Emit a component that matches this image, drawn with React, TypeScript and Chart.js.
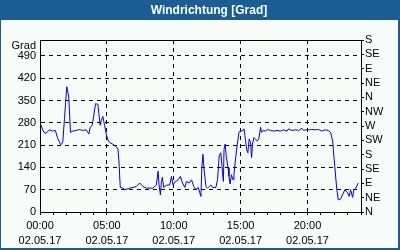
import React, { useEffect, useRef } from "react";
import { Chart, registerables } from "chart.js";

Chart.register(...registerables);

const titleText = "Windrichtung [Grad]";
const unitLabel = "Grad";

// time in hours since 02.05.17 00:00
const times = [
  0.0, 0.08, 0.2, 0.3, 0.45, 0.7, 0.95, 1.15, 1.3, 1.55, 1.7, 1.83, 2.0, 2.08, 2.15, 2.28, 2.45, 2.7, 2.95,
  3.2, 3.45, 3.65, 3.75, 3.9, 4.0, 4.15, 4.33, 4.4, 4.5, 4.58, 4.7, 4.83, 4.95, 5.08, 5.2, 5.45, 5.7, 5.83,
  5.9, 6.0, 6.2, 6.33, 6.7, 6.95, 7.2, 7.45, 7.7, 7.95, 8.45, 8.7, 8.83, 8.9, 9.0, 9.08, 9.15, 9.25, 9.45,
  9.7, 9.83, 9.95, 10.08, 10.33, 10.5, 10.65, 10.83, 10.95, 11.15, 11.33, 11.5, 11.65, 11.83, 11.95, 12.03,
  12.1, 12.18, 12.28, 12.41, 12.53, 12.66, 12.78, 12.9, 13.15, 13.27, 13.4, 13.52, 13.64, 13.71, 13.76,
  13.84, 13.94, 14.06, 14.13, 14.21, 14.31, 14.43, 14.5, 14.63, 14.75, 14.88, 15.0, 15.12, 15.25, 15.32,
  15.45, 15.54, 15.64, 15.74, 15.82, 15.89, 15.99, 16.11, 16.24, 16.36, 16.49, 16.56, 16.68, 16.86, 17.03,
  17.23, 17.48, 17.72, 17.97, 18.22, 18.47, 18.59, 18.84, 19.09, 19.33, 19.58, 19.7, 19.83, 20.07, 20.32,
  20.57, 20.82, 21.07, 21.31, 21.56, 21.73, 21.88, 21.98, 22.05, 22.18, 22.3, 22.48, 22.62, 22.8, 22.97,
  23.12, 23.22, 23.37, 23.47, 23.61, 23.79,
];

const directions = [
  265, 272, 258, 250, 247, 258, 254, 256, 234, 211, 218, 293, 393, 377, 361, 250, 254, 256, 259,
  256, 258, 245, 266, 272, 298, 340, 338, 309, 272, 287, 300, 272, 245, 226, 218, 213, 205, 197,
  160, 77, 75, 70, 75, 77, 80, 91, 80, 75, 75, 85, 128, 85, 54, 96, 109, 77, 84,
  85, 112, 85, 94, 101, 112, 91, 77, 96, 91, 101, 80, 70, 77, 60, 49,
  139, 181, 128, 80, 75, 80, 85, 77, 77, 101, 176, 186, 128, 96, 197,
  213, 171, 139, 112, 88, 117, 101, 117, 171, 213, 250, 256, 254, 261, 240,
  197, 186, 229, 218, 171, 213, 234, 229, 223, 229, 266, 250, 256, 254, 259,
  256, 254, 256, 254, 258, 254, 261, 256, 258, 256, 263, 256, 258, 258, 259,
  258, 259, 254, 258, 256, 250, 223, 171, 139, 75, 38, 41, 54, 70, 62,
  49, 70, 46, 70, 75, 91,
];

const yTickValues = [0, 70, 140, 210, 280, 350, 420, 490];
const xTickHours = [0, 1, 2, 3, 4, 5, 6, 7, 8, 9, 10, 11, 12, 13, 14, 15, 16, 17, 18, 19, 20, 21, 22, 23, 24];
const xLabelHours = [0, 5, 10, 15, 20];
const xLabelTimes = ["00:00", "05:00", "10:00", "15:00", "20:00"];
const xLabelDate = "02.05.17";
const compassValues = [0, 45, 90, 135, 180, 225, 270, 315, 360, 405, 450, 495, 540];
const compassLabels = ["N", "NE", "E", "SE", "S", "SW", "W", "NW", "N", "NE", "E", "SE", "S"];

const FONT = { family: "Liberation Sans", size: 11 };

const framePlugin = {
  id: "frame",
  beforeDraw(chart: any) {
    const { ctx, width, height } = chart;
    ctx.save();
    ctx.fillStyle = "#f8fcf8";
    ctx.fillRect(0, 0, width, height);
    ctx.fillStyle = "#1b5e94";
    ctx.fillRect(0, 0, width, 20);
    ctx.fillRect(0, 0, 1, height);
    ctx.fillRect(width - 2, 0, 2, height);
    ctx.fillRect(0, height - 2, width, 2);
    ctx.fillStyle = "#ffffff";
    ctx.font = "bold 12px 'Liberation Sans'";
    ctx.textAlign = "center";
    ctx.textBaseline = "middle";
    ctx.fillText(titleText, 209, 10.5);
    ctx.restore();
  },
  afterDraw(chart: any) {
    const { ctx, chartArea } = chart;
    ctx.save();
    ctx.strokeStyle = "#000";
    ctx.lineWidth = 1;
    ctx.beginPath();
    ctx.moveTo(chartArea.left, Math.round(chartArea.top) + 0.5);
    ctx.lineTo(chartArea.right, Math.round(chartArea.top) + 0.5);
    ctx.stroke();
    ctx.fillStyle = "#000";
    ctx.font = "11px 'Liberation Sans'";
    ctx.textAlign = "right";
    ctx.textBaseline = "middle";
    ctx.fillText(unitLabel, chartArea.left - 4, chartArea.top + 6);
    ctx.restore();
  },
};

export default function App() {
  const canvasRef = useRef<HTMLCanvasElement | null>(null);

  useEffect(() => {
    if (!canvasRef.current) return;
    const chart = new Chart(canvasRef.current, {
      type: "line",
      data: {
        datasets: [
          {
            data: times.map((t, i) => ({ x: t, y: directions[i] })),
            borderColor: "#0000ee",
            borderWidth: 1,
            pointRadius: 0,
            tension: 0,
            fill: false,
            xAxisID: "x",
            yAxisID: "y",
          },
        ],
      },
      options: {
        animation: false,
        responsive: false,
        devicePixelRatio: 1,
        layout: { padding: { top: 40, left: 0, right: 0, bottom: 0 } },
        plugins: { legend: { display: false }, tooltip: { enabled: false }, title: { display: false } },
        scales: {
          x: {
            type: "linear",
            min: 0,
            max: 24,
            afterBuildTicks: (s: any) => {
              s.ticks = xTickHours.map((v) => ({ value: v }));
            },
            afterFit: (s: any) => {
              s.height = 38;
            },
            ticks: {
              autoSkip: false,
              maxRotation: 0,
              color: "#000",
              font: { ...FONT, lineHeight: 1.4 },
              padding: 3,
              callback: (v: any) => {
                const i = xLabelHours.indexOf(Number(v));
                return i >= 0 ? [xLabelTimes[i], xLabelDate] : "";
              },
            },
            grid: {
              color: (c: any) => {
                const v = c.tick ? c.tick.value : 0;
                return xLabelHours.includes(v) && v > 0 ? "#000" : "rgba(0,0,0,0)";
              },
              tickColor: "#000",
              tickLength: 3,
              tickBorderDash: [],
              lineWidth: 1,
            },
            border: { display: true, color: "#000", width: 1, dash: [4, 4] },
          },
          y: {
            type: "linear",
            position: "left",
            min: 0,
            max: 540,
            afterBuildTicks: (s: any) => {
              s.ticks = yTickValues.map((v) => ({ value: v }));
            },
            afterFit: (s: any) => {
              s.width = 40;
            },
            ticks: { color: "#000", font: FONT, padding: 4, autoSkip: false },
            grid: {
              color: (c: any) => (c.tick && c.tick.value > 0 ? "#000" : "rgba(0,0,0,0)"),
              drawTicks: false,
              lineWidth: 1,
            },
            border: { display: true, color: "#000", width: 1, dash: [4, 4] },
          },
          y2: {
            type: "linear",
            position: "right",
            min: 0,
            max: 540,
            afterBuildTicks: (s: any) => {
              s.ticks = compassValues.map((v) => ({ value: v }));
            },
            afterFit: (s: any) => {
              s.width = 39;
            },
            ticks: {
              color: "#000",
              font: FONT,
              padding: 1,
              autoSkip: false,
              callback: (v: any) => {
                const i = compassValues.indexOf(Number(v));
                return i >= 0 ? compassLabels[i] : "";
              },
            },
            grid: { drawOnChartArea: false, drawTicks: true, tickLength: 3, tickColor: "#000" },
            border: { display: true, color: "#000", width: 1 },
          },
        },
      },
      plugins: [framePlugin],
    } as any);
    return () => chart.destroy();
  }, []);

  return (
    <div style={{ position: "fixed", left: 0, top: 0, width: 400, height: 250 }}>
      <canvas ref={canvasRef} width={400} height={250} style={{ display: "block" }} />
    </div>
  );
}
